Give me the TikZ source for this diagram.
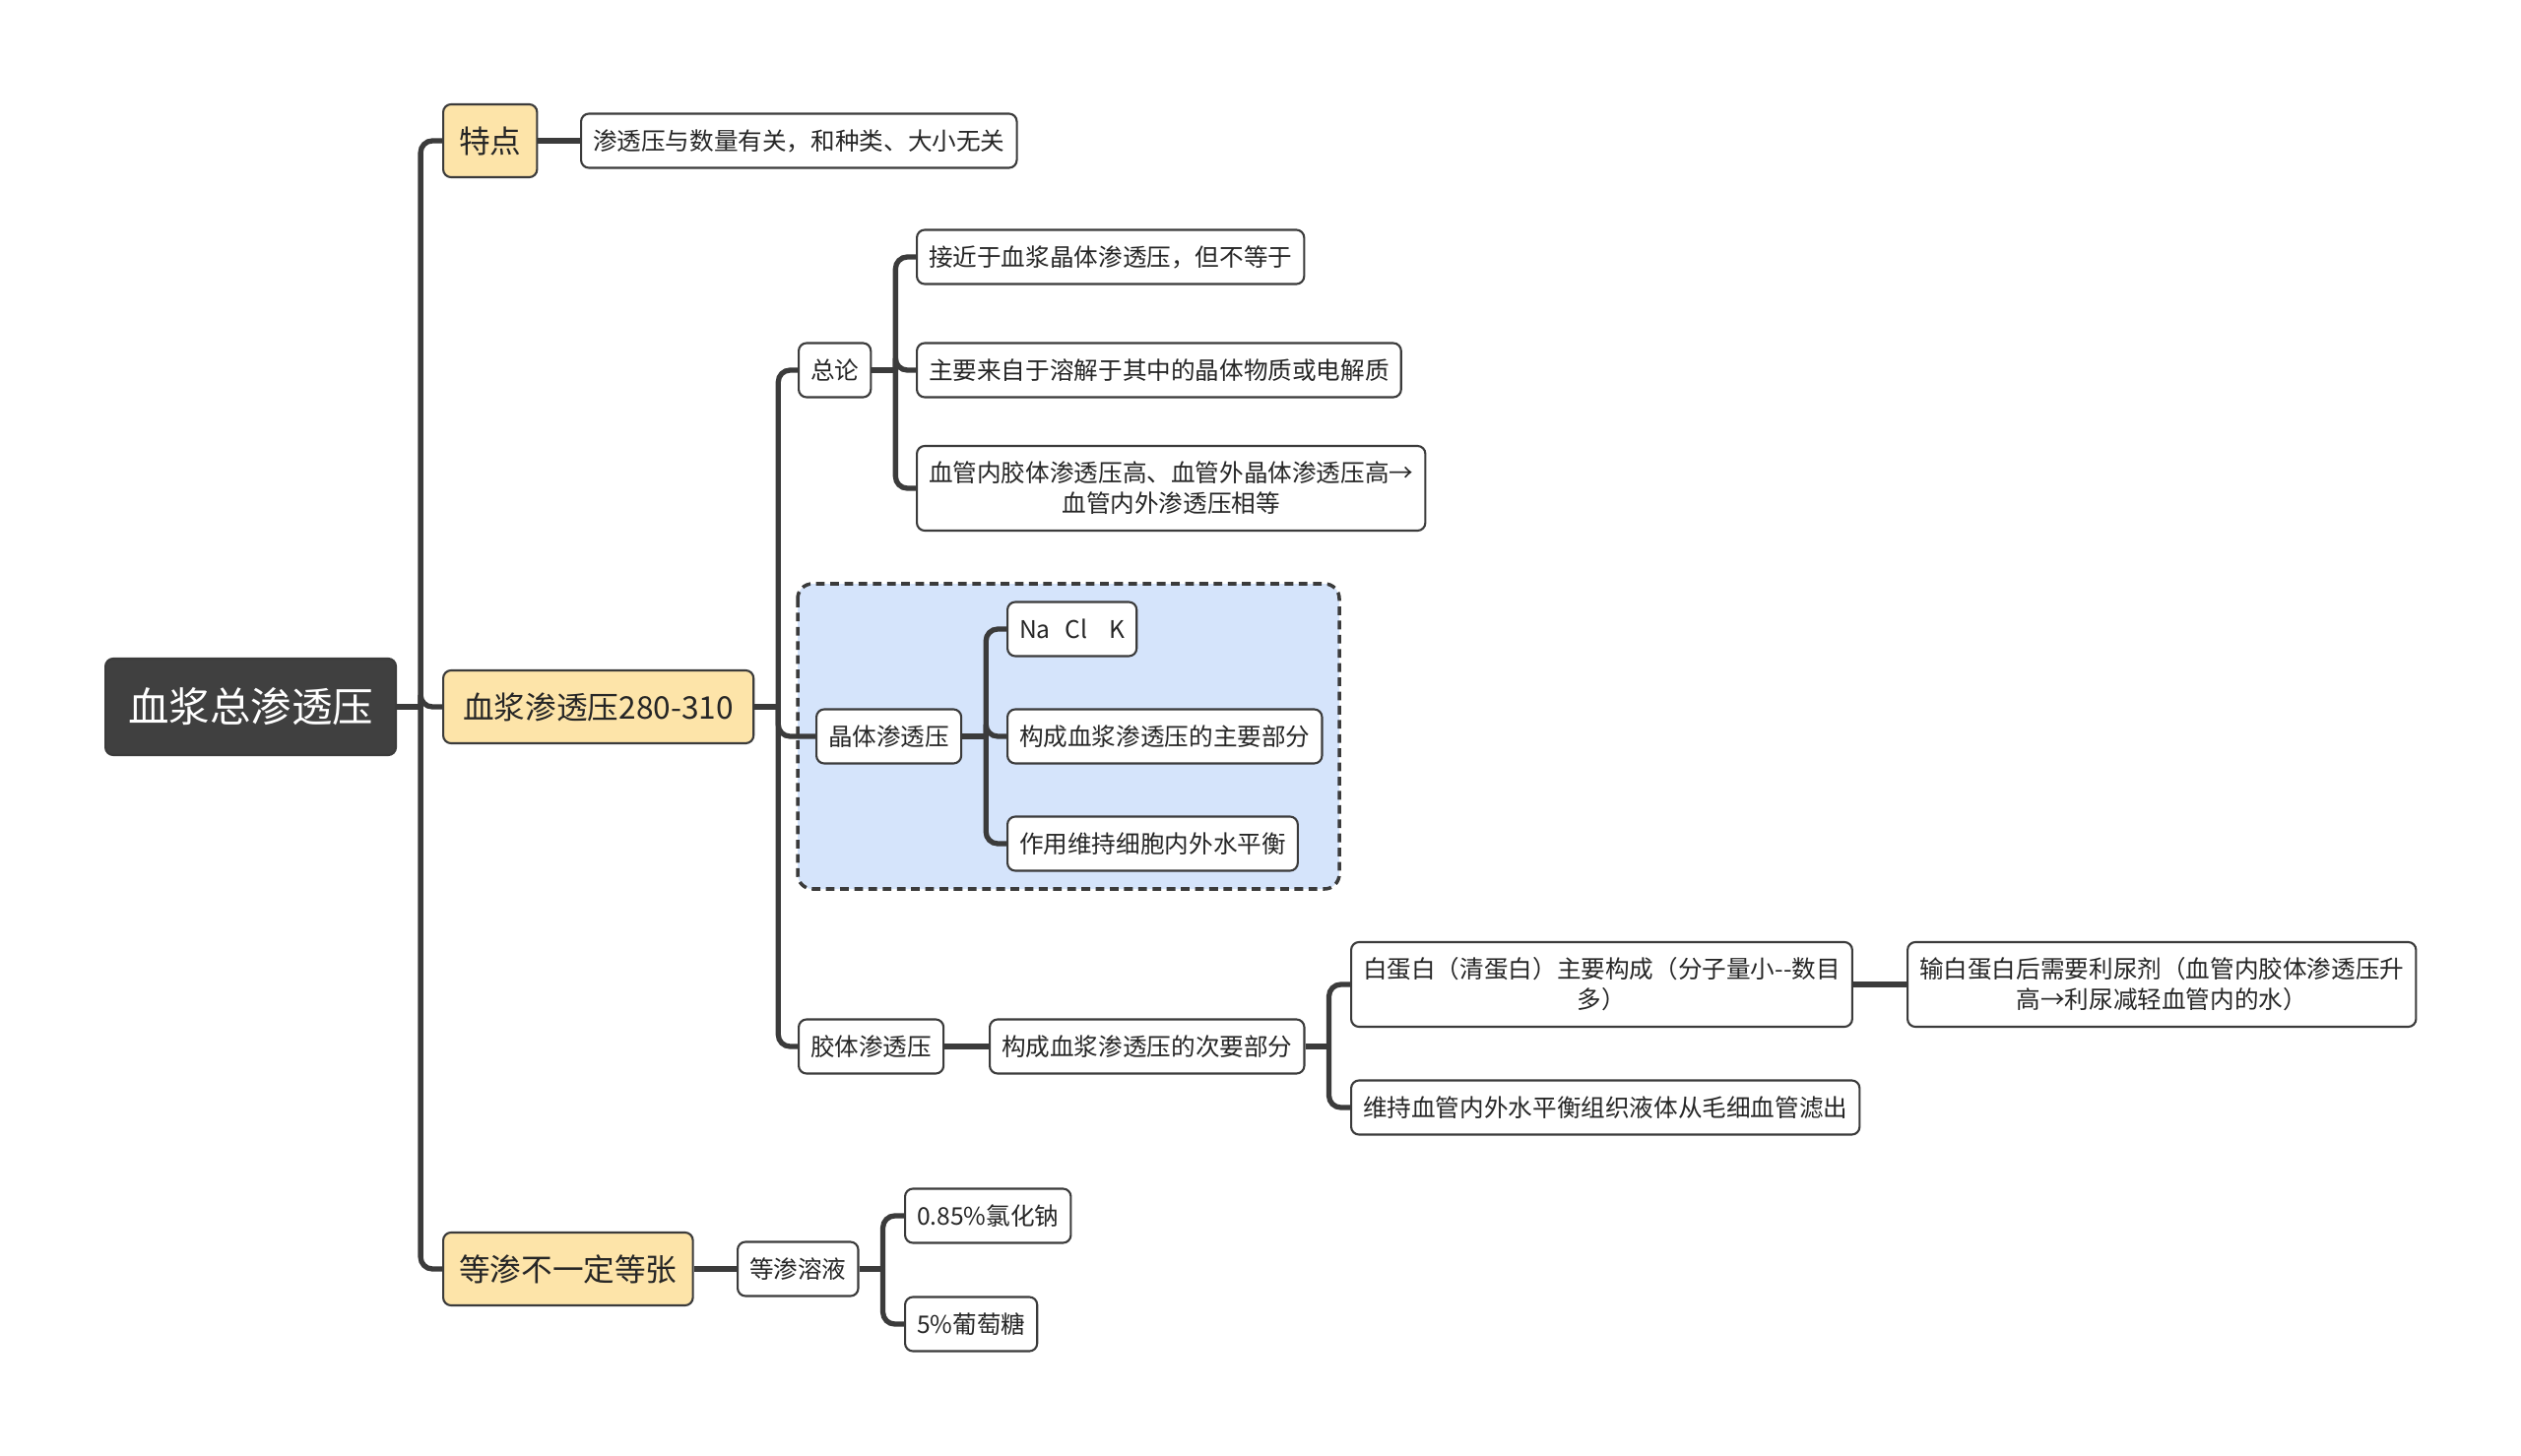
\documentclass[tikz,border=0pt]{standalone}
\usepackage{fontspec}
\setmainfont{Noto Sans CJK SC}
\definecolor{linea}{HTML}{3B3B3B}
\definecolor{raizgris}{HTML}{404040}
\definecolor{amarillo}{HTML}{FDE4A9}
\definecolor{azul}{HTML}{D5E4FB}
\begin{document}
\begin{tikzpicture}
  [x=0.01cm,y=-0.01cm,
   every node/.style={anchor=west,rounded corners=0.08cm,draw=linea,line width=0.6pt,fill=white,
     text=black!85,inner xsep=0.12cm,inner ysep=0pt,minimum height=0.55cm,align=center,
     font=\fontsize{7}{8.8}\selectfont},
   raiz/.style={fill=raizgris,text=white,inner xsep=0.23cm,minimum height=0.98cm,
     font=\fontsize{11.8}{14}\selectfont},
   tema/.style={fill=amarillo,inner xsep=0.16cm,minimum height=0.74cm,
     font=\fontsize{9}{11}\selectfont},
   doble/.style={minimum height=0.86cm},
   rama/.style={draw=linea,line width=1.5pt,rounded corners=0.12cm},
   grupo/.style={draw=linea,line width=1pt,dash pattern=on 2.5pt off 1.6pt,fill=azul,
     rounded corners=0.15cm}]
  \useasboundingbox (0,0) rectangle (2560,1479);

  % Recuadro punteado del grupo cristaloide
  \draw[grupo] (810,593) rectangle (1360,903);

  % Raiz y temas principales
  \node[raiz] (n0) at (106,718) {血浆总渗透压};
  \node[tema] (n1) at (449,143) {特点};
  \node[tema,minimum width=3.15cm] (n3) at (449,718) {血浆渗透压280-310};
  \node[tema] (n17) at (449,1289) {等渗不一定等张};

  % Subtemas
  \node (n2) at (589,143) {渗透压与数量有关，和种类、大小无关};
  \node (n4) at (810,376) {总论};
  \node (n5) at (930,261) {接近于血浆晶体渗透压，但不等于};
  \node (n6) at (930,376) {主要来自于溶解于其中的晶体物质或电解质};
  \node[doble] (n7) at (930,496) {血管内胶体渗透压高、血管外晶体渗透压高→\\血管内外渗透压相等};
  \node (n8) at (828,748) {晶体渗透压};
  \node (n9) at (1022,639) {Na\hspace{0.6em}Cl\hspace{0.9em}K};
  \node (n10) at (1022,748) {构成血浆渗透压的主要部分};
  \node (n11) at (1022,857) {作用维持细胞内外水平衡};
  \node (n12) at (810,1063) {胶体渗透压};
  \node (n13) at (1004,1063) {构成血浆渗透压的次要部分};
  \node[doble] (n14) at (1371,1000) {白蛋白（清蛋白）主要构成（分子量小-{}-数目\\多）};
  \node[doble] (n15) at (1936,1000) {输白蛋白后需要利尿剂（血管内胶体渗透压升\\高→利尿减轻血管内的水）};
  \node (n16) at (1371,1125) {维持血管内外水平衡组织液体从毛细血管滤出};
  \node (n18) at (748,1289) {等渗溶液};
  \node (n19) at (918,1235) {0.85\%氯化钠};
  \node (n20) at (918,1345) {5\%葡萄糖};

  % Ramas en codo
  \draw[rama] (n0.east) -- ++(24,0) coordinate (t0);
  \foreach \to in {n1,n3,n17}
    \draw[rama] (t0) |- (\to.west);
  \draw[rama] (n3.east) -- ++(24,0) coordinate (t3);
  \foreach \to in {n4,n8,n12}
    \draw[rama] (t3) |- (\to.west);
  \draw[rama] (n4.east) -- ++(24,0) coordinate (t4);
  \foreach \to in {n5,n6,n7}
    \draw[rama] (t4) |- (\to.west);
  \draw[rama] (n8.east) -- ++(24,0) coordinate (t8);
  \foreach \to in {n9,n10,n11}
    \draw[rama] (t8) |- (\to.west);
  \draw[rama] (n13.east) -- ++(24,0) coordinate (t13);
  \foreach \to in {n14,n16}
    \draw[rama] (t13) |- (\to.west);
  \draw[rama] (n18.east) -- ++(24,0) coordinate (t18);
  \foreach \to in {n19,n20}
    \draw[rama] (t18) |- (\to.west);

  % Ramas rectas
  \foreach \from/\to in {n1/n2, n12/n13, n14/n15, n17/n18}
    \draw[rama] (\from.east) -- (\to.west);
\end{tikzpicture}
\end{document}
